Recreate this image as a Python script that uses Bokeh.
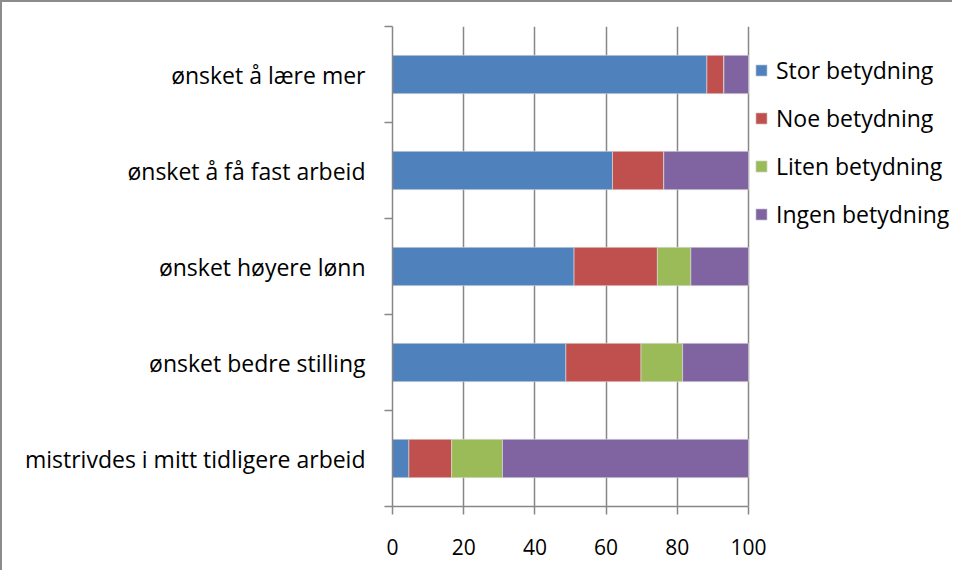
from bokeh.plotting import figure
from bokeh.models import ColumnDataSource, Range1d, FixedTicker
from bokeh.embed import file_html
from bokeh.resources import INLINE

categories = ["mistrivdes i mitt tidligere arbeid", "ønsket bedre stilling",
              "ønsket høyere lønn", "ønsket å få fast arbeid", "ønsket å lære mer"]
series = ["Stor betydning", "Noe betydning", "Liten betydning", "Ingen betydning"]
stor = [4.6, 48.7, 51.0, 61.8, 88.3]
noe = [12.0, 21.1, 23.4, 14.4, 4.8]
liten = [14.3, 11.7, 9.4, 0.0, 0.0]
ingen = [69.1, 18.5, 16.2, 23.8, 6.9]
colors = ["#4F81BD", "#C0504D", "#9BBB59", "#8064A2"]
x_ticks = [0, 20, 40, 60, 80, 100]

ypos = [i + 0.5 for i in range(len(categories))]
source = ColumnDataSource(data={"y": ypos, series[0]: stor, series[1]: noe,
                                series[2]: liten, series[3]: ingen})

FONT = "Open Sans"
GRID = "#878787"

# layout sizes (pixels)
W, H = 952, 570
LEFT, TOP, BOTTOM = 390, 24, 66
AXIS_PX = 356            # pixel length of the 0..100 value axis
x_end = x_ticks[-1] * (W - LEFT) / AXIS_PX   # frame extends right to hold the legend

p = figure(width=W, height=H, output_backend="svg", toolbar_location=None,
           x_range=Range1d(0, x_end), y_range=Range1d(0, len(categories)),
           min_border_left=LEFT, min_border_right=0, min_border_top=TOP,
           min_border_bottom=BOTTOM,
           styles={"border-left": "2px solid #8c8c8c", "border-top": "2px solid #8c8c8c"})
p.outline_line_color = None

p.hbar_stack(series, y="y", height=0.4, color=colors, source=source,
             line_color="#dddddd", line_width=0.6, legend_label=series)

# x axis
p.xaxis.ticker = FixedTicker(ticks=x_ticks)
p.xaxis.bounds = (x_ticks[0], x_ticks[-1])
p.xaxis.major_tick_out = 8
p.xaxis.major_tick_in = 0
p.xaxis.minor_tick_out = 0
p.xaxis.minor_tick_in = 0
p.xaxis.axis_line_color = GRID
p.xaxis.axis_line_width = 1.5
p.xaxis.major_tick_line_color = GRID
p.xaxis.major_tick_line_width = 1.5
p.xaxis.major_label_text_font = FONT
p.xaxis.major_label_text_font_size = "21px"
p.xaxis.major_label_text_color = "#000000"
p.xaxis.major_label_standoff = 24

# y axis: labels at centres, ticks at boundaries
p.yaxis.ticker = FixedTicker(ticks=ypos, minor_ticks=list(range(len(categories) + 1)))
p.yaxis.major_label_overrides = {y: c for y, c in zip(ypos, categories)}
p.yaxis.major_tick_out = 0
p.yaxis.major_tick_in = 0
p.yaxis.minor_tick_out = 8
p.yaxis.minor_tick_in = 0
p.yaxis.minor_tick_line_color = GRID
p.yaxis.minor_tick_line_width = 1.5
p.yaxis.axis_line_color = GRID
p.yaxis.axis_line_width = 1.5
p.yaxis.major_label_text_font = FONT
p.yaxis.major_label_text_font_size = "23px"
p.yaxis.major_label_text_color = "#000000"
p.yaxis.major_label_standoff = 19

p.ygrid.visible = False
p.xgrid.ticker = FixedTicker(ticks=x_ticks)
p.xgrid.grid_line_color = GRID
p.xgrid.grid_line_width = 1.5

lg = p.legend[0]
lg.location = (362, 276)
lg.border_line_color = None
lg.background_fill_alpha = 0
lg.padding = 0
lg.margin = 0
lg.spacing = 16
lg.glyph_width = 14
lg.glyph_height = 14
lg.label_height = 24
lg.label_standoff = 8
lg.label_text_font = FONT
lg.label_text_font_size = "23px"
lg.label_text_color = "#000000"

open("out.html", "w").write(file_html(p, INLINE))
